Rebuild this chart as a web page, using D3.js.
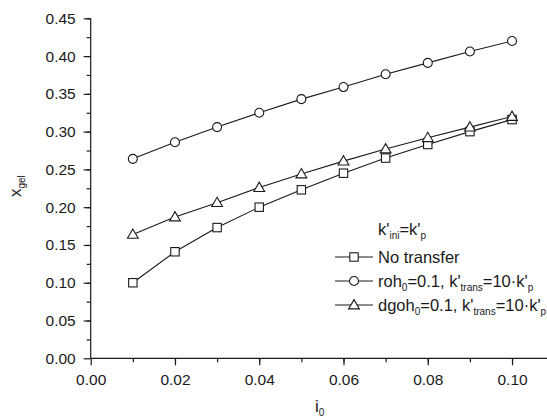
<!DOCTYPE html>
<html>
<head>
<meta charset="utf-8">
<script src="https://cdn.jsdelivr.net/npm/d3@7"></script>
<style>
  body { margin: 0; background: #fff; }
  svg { font-family: "Liberation Sans", Arial, sans-serif; }
</style>
</head>
<body>
<div id="chart"></div>
<script>
// data
var i0 = [0.01, 0.02, 0.03, 0.04, 0.05, 0.06, 0.07, 0.08, 0.09, 0.10]
var noTransfer = [0.100, 0.141, 0.173, 0.200, 0.223, 0.245, 0.265, 0.283, 0.300, 0.316]
var roh = [0.264, 0.286, 0.306, 0.325, 0.343, 0.359, 0.376, 0.391, 0.406, 0.420]
var dgoh = [0.164, 0.187, 0.206, 0.226, 0.244, 0.261, 0.277, 0.292, 0.306, 0.320]
var xTicks = [0.00, 0.02, 0.04, 0.06, 0.08, 0.10]
var yTicks = [0.00, 0.05, 0.10, 0.15, 0.20, 0.25, 0.30, 0.35, 0.40, 0.45]

var width = 547, height = 417

var svg = d3.select("#chart")
  .append("svg")
  .attr("width", width)
  .attr("height", height)

var x = d3.scaleLinear()
  .domain([0, 0.1083])
  .range([90.7, 547])

var y = d3.scaleLinear()
  .domain([0, 0.45])
  .range([358.3, 18.3])

var ink = "#1a1a1a"

// minor ticks
svg.append("g")
  .attr("transform", "translate(0," + y(0) + ")")
  .call(d3.axisBottom(x).tickValues(d3.range(1, 11).map(function (d) { return d / 100 }))
    .tickSize(4).tickFormat(""))
  .call(function (g) { g.select(".domain").remove() })
svg.append("g")
  .attr("transform", "translate(" + x(0) + ",0)")
  .call(d3.axisLeft(y).tickValues(d3.range(0, 18).map(function (d) { return 0.025 + d * 0.025 }))
    .tickSize(4).tickFormat(""))
  .call(function (g) { g.select(".domain").remove() })

// X axis
var xAxis = svg.append("g")
  .attr("transform", "translate(0," + y(0) + ")")
  .call(d3.axisBottom(x).tickValues(xTicks).tickSize(7).tickPadding(9)
    .tickFormat(d3.format(".2f")))
xAxis.select(".domain").attr("d", "M" + x(0) + ",0H" + width)
xAxis.selectAll("text").style("font-size", "15.5px").attr("fill", ink)

// Y axis
var yAxis = svg.append("g")
  .attr("transform", "translate(" + x(0) + ",0)")
  .call(d3.axisLeft(y).tickValues(yTicks).tickSize(7).tickPadding(8)
    .tickFormat(d3.format(".2f")))
yAxis.select(".domain").attr("d", "M0," + y(0.45) + "V" + y(0))
yAxis.selectAll("text").style("font-size", "15.5px").attr("fill", ink)

svg.selectAll(".tick line, .domain").attr("stroke", ink).attr("stroke-width", 1.2)

// axis titles
var yt = svg.append("text")
  .attr("transform", "translate(21,197) rotate(-90)")
  .style("font-size", "17px").attr("fill", ink)
yt.append("tspan").text("x")
yt.append("tspan").attr("dy", 4).style("font-size", "10px").text("gel")

var xt = svg.append("text")
  .attr("x", 315).attr("y", 412)
  .style("font-size", "17px").attr("fill", ink)
xt.append("tspan").text("i")
xt.append("tspan").attr("dy", 4).style("font-size", "10px").text("0")

// markers
function square(g) {
  g.append("rect").attr("x", -4.2).attr("y", -4.2).attr("width", 8.4).attr("height", 8.4)
}
function circle(g) {
  g.append("circle").attr("r", 4.5)
}
function triangle(g) {
  g.append("path").attr("d", "M0,-5.4L5.4,3.9L-5.4,3.9Z")
}

var series = [
  { name: "none", values: noTransfer, marker: square },
  { name: "roh", values: roh, marker: circle },
  { name: "dgoh", values: dgoh, marker: triangle }
]

var line = d3.line()
  .x(function (d, i) { return x(i0[i]) })
  .y(function (d) { return y(d) })

series.forEach(function (s) {
  svg.append("path")
    .datum(s.values)
    .attr("d", line)
    .attr("fill", "none")
    .attr("stroke", ink)
    .attr("stroke-width", 1.1)
  s.values.forEach(function (v, i) {
    var g = svg.append("g")
      .attr("transform", "translate(" + x(i0[i]) + "," + y(v) + ")")
      .attr("fill", "#fff").attr("stroke", ink).attr("stroke-width", 1.1)
    s.marker(g)
  })
})

// legend
function richText(xp, yp, parts) {
  var t = svg.append("text").attr("x", xp).attr("y", yp)
    .style("font-size", "16.5px").attr("fill", ink)
  var shift = 0
  parts.forEach(function (p) {
    var sub = p[1]
    var ts = t.append("tspan").text(p[0])
    if (sub && shift === 0) { ts.attr("dy", 4); shift = 4 }
    else if (!sub && shift !== 0) { ts.attr("dy", -4); shift = 0 }
    if (sub) ts.style("font-size", "10px")
  })
}

richText(378, 235, [["k'"], ["ini", 1], ["=k'"], ["p", 1]])

var legendRows = [
  { y: 257, marker: square, parts: [["No transfer"]] },
  { y: 281, marker: circle, parts: [["roh"], ["0", 1], ["=0.1, k'"], ["trans", 1], ["=10·k'"], ["p", 1]] },
  { y: 305, marker: triangle, parts: [["dgoh"], ["0", 1], ["=0.1, k'"], ["trans", 1], ["=10·k'"], ["p", 1]] }
]

legendRows.forEach(function (r) {
  svg.append("line")
    .attr("x1", 335).attr("x2", 373)
    .attr("y1", r.y).attr("y2", r.y)
    .attr("stroke", ink).attr("stroke-width", 1.1)
  var g = svg.append("g")
    .attr("transform", "translate(354," + r.y + ")")
    .attr("fill", "#fff").attr("stroke", ink).attr("stroke-width", 1.1)
  r.marker(g)
  richText(378, r.y + 5.5, r.parts)
})
</script>
</body>
</html>
